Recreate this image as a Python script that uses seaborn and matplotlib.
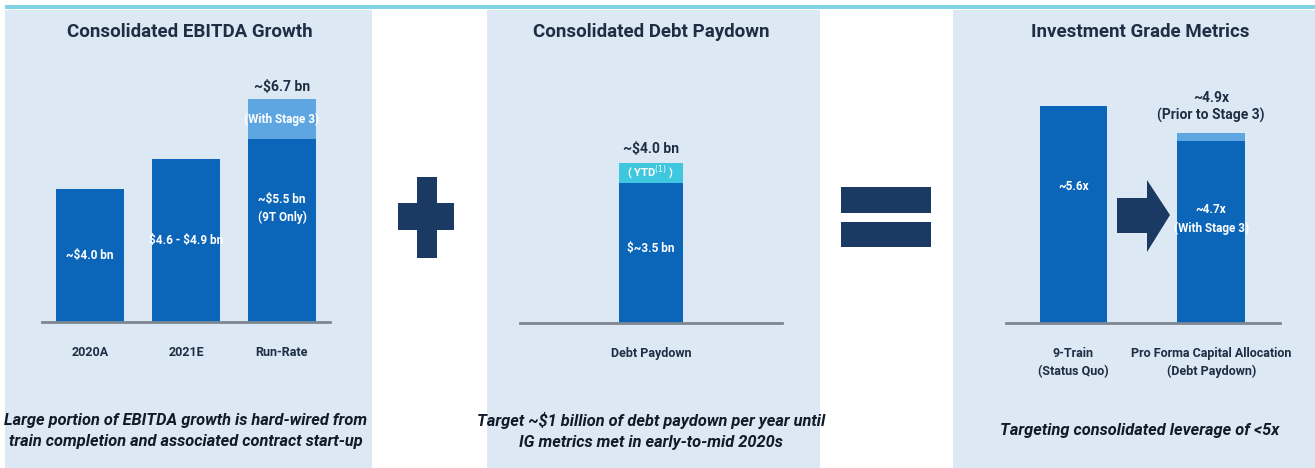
import matplotlib
matplotlib.use("Agg")
import matplotlib.pyplot as plt
from matplotlib.patches import Rectangle, Polygon
import seaborn as sns
import pandas as pd

# ---- data ----
ebitda_cats = ["2020A", "2021E", "Run-Rate"]
ebitda_base = [4.0, 4.9, 5.5]
ebitda_total = [4.0, 4.9, 6.7]
ebitda_labels = ["~\\$4.0 bn", "\\$4.6 - \\$4.9 bn", "~\\$5.5 bn\n(9T Only)"]

debt_cats = ["Debt Paydown"]
debt_base = [3.5]
debt_total = [4.0]

lev_cats = ["9-Train\n(Status Quo)", "Pro Forma Capital Allocation\n(Debt Paydown)"]
lev_base = [5.6, 4.7]
lev_total = [5.6, 4.9]

titles = ["Consolidated EBITDA Growth", "Consolidated Debt Paydown", "Investment Grade Metrics"]
notes = [
    "Large portion of EBITDA growth is hard-wired from\ntrain completion and associated contract start-up",
    "Target ~\\$1 billion of debt paydown per year until\nIG metrics met in early-to-mid 2020s",
    "Targeting consolidated leverage of <5x",
]

# ---- style ----
sns.set_theme(style="white")
plt.rcParams["font.family"] = ["Roboto", "DejaVu Sans"]

DARK = "#0b65b9"
LIGHT = "#5ea6e2"
CYAN = "#3fc7df"
PANEL = "#dce8f4"
NAVY = "#1b3a63"
TEXT = "#1e2f45"
BASE = "#7c8791"

W, H = 1315, 468
fig = plt.figure(figsize=(W / 100, H / 100), dpi=100)
fig.patch.set_facecolor("white")

# background layer in pixel coordinates
bg = fig.add_axes([0, 0, 1, 1])
bg.set_xlim(0, W)
bg.set_ylim(H, 0)
bg.axis("off")

for x0, x1 in [(5, 372), (487, 820), (953, 1315)]:
    bg.add_patch(Rectangle((x0, 10), x1 - x0, H - 10, color=PANEL, lw=0))
bg.add_patch(Rectangle((5, 5), W - 5, 3.5, color="#7fd3e2", lw=0))

# plus sign
bg.add_patch(Rectangle((417, 177), 20, 81, color=NAVY, lw=0))
bg.add_patch(Rectangle((398, 203), 56, 27, color=NAVY, lw=0))
# equals sign
bg.add_patch(Rectangle((841, 187), 90, 26, color=NAVY, lw=0))
bg.add_patch(Rectangle((841, 222), 90, 25, color=NAVY, lw=0))
# arrow
bg.add_patch(Polygon([(1117, 198), (1147, 198), (1147, 180), (1170, 215),
                      (1147, 252), (1147, 233), (1117, 233)], closed=True,
                     color=NAVY, lw=0))

title_x = [190, 651, 1140]
for tx, t in zip(title_x, titles):
    bg.text(tx, 32, t, ha="center", va="center", fontsize=13.5,
            fontweight="bold", color=TEXT)
note_x = [186, 651, 1140]
note_y = [431, 431, 431]
for nx, t, ny in zip(note_x, notes, note_y):
    bg.text(nx, ny, t, ha="center", va="center",
            fontsize=11.8, fontweight="bold", style="italic", color="#111a28",
            linespacing=1.55)


def chart_axes(left, right, baseline, top):
    return fig.add_axes([left / W, (H - baseline) / H,
                         (right - left) / W, (baseline - top) / H])


def stacked(ax, cats, total, base, top_color, width):
    d_tot = pd.DataFrame({"cat": cats, "v": total})
    d_base = pd.DataFrame({"cat": cats, "v": base})
    sns.barplot(data=d_tot, x="cat", y="v", color=top_color, width=width,
                saturation=1, ax=ax, edgecolor="none")
    sns.barplot(data=d_base, x="cat", y="v", color=DARK, width=width,
                saturation=1, ax=ax, edgecolor="none")


def finish(ax, xlim, ylim):
    ax.set_xlim(*xlim)
    ax.set_ylim(*ylim)
    ax.patch.set_alpha(0)
    for s in ["top", "right", "left"]:
        ax.spines[s].set_visible(False)
    ax.spines["bottom"].set_color(BASE)
    ax.spines["bottom"].set_linewidth(2)
    ax.set_yticks([])
    ax.set_xlabel("")
    ax.set_ylabel("")
    ax.tick_params(axis="x", length=0, pad=17)
    for lab in ax.get_xticklabels():
        lab.set_fontsize(9)
        lab.set_fontweight("bold")
        lab.set_color(TEXT)
        lab.set_linespacing(1.5)


# panel 1: EBITDA
ax1 = chart_axes(42, 330, 322, 72)
stacked(ax1, ebitda_cats, ebitda_total, ebitda_base, LIGHT, 0.71)
finish(ax1, (-0.5, 2.5), (0, 250 / 33.3))
for i, (v, lab) in enumerate(zip(ebitda_base, ebitda_labels)):
    ax1.text(i, v * 0.5 if i < 2 else v * 0.62, lab, ha="center", va="center",
             color="white", fontsize=8.5, fontweight="bold", linespacing=1.5)
ax1.text(2, (ebitda_base[2] + ebitda_total[2]) / 2, "(With Stage 3)",
         ha="center", va="center", color="white", fontsize=8.5, fontweight="bold")
ax1.text(2, ebitda_total[2] + 0.15, f"~\\${ebitda_total[2]:.1f} bn", ha="center",
         va="bottom", color=TEXT, fontsize=10, fontweight="bold")

# panel 2: debt paydown
ax2 = chart_axes(520, 782, 323, 73)
stacked(ax2, debt_cats, debt_total, debt_base, CYAN, 0.5)
finish(ax2, (-1.02, 1.02), (0, 250 / 40))
ax2.text(0, debt_base[0] * 0.53, f"\\$~{debt_base[0]:.1f} bn", ha="center",
         va="center", color="white", fontsize=8.5, fontweight="bold")
ax2.text(0, (debt_base[0] + debt_total[0]) / 2, "( YTD$^{(1)}$ )", ha="center",
         va="center", color="white", fontsize=8, fontweight="bold")
ax2.text(0, debt_total[0] + 0.18, f"~\\${debt_total[0]:.1f} bn", ha="center",
         va="bottom", color=TEXT, fontsize=10, fontweight="bold")

# panel 3: leverage
ax3 = chart_axes(1006, 1280, 323, 73)
stacked(ax3, lev_cats, lev_total, lev_base, LIGHT, 0.49)
finish(ax3, (-0.49, 1.5), (0, 250 / 38.75))
ax3.text(0, lev_base[0] * 0.63, f"~{lev_base[0]:.1f}x", ha="center",
         va="center", color="white", fontsize=8.5, fontweight="bold")
ax3.text(1, lev_base[1] * 0.57, f"~{lev_base[1]:.1f}x\n(With Stage 3)",
         ha="center", va="center", color="white", fontsize=8.5,
         fontweight="bold", linespacing=1.5)
ax3.text(1, lev_total[1] + 0.25, f"~{lev_total[1]:.1f}x\n(Prior to Stage 3)",
         ha="center", va="bottom", color=TEXT, fontsize=10,
         fontweight="bold", linespacing=1.3)

fig.savefig("out.png", dpi=100, facecolor="white")
